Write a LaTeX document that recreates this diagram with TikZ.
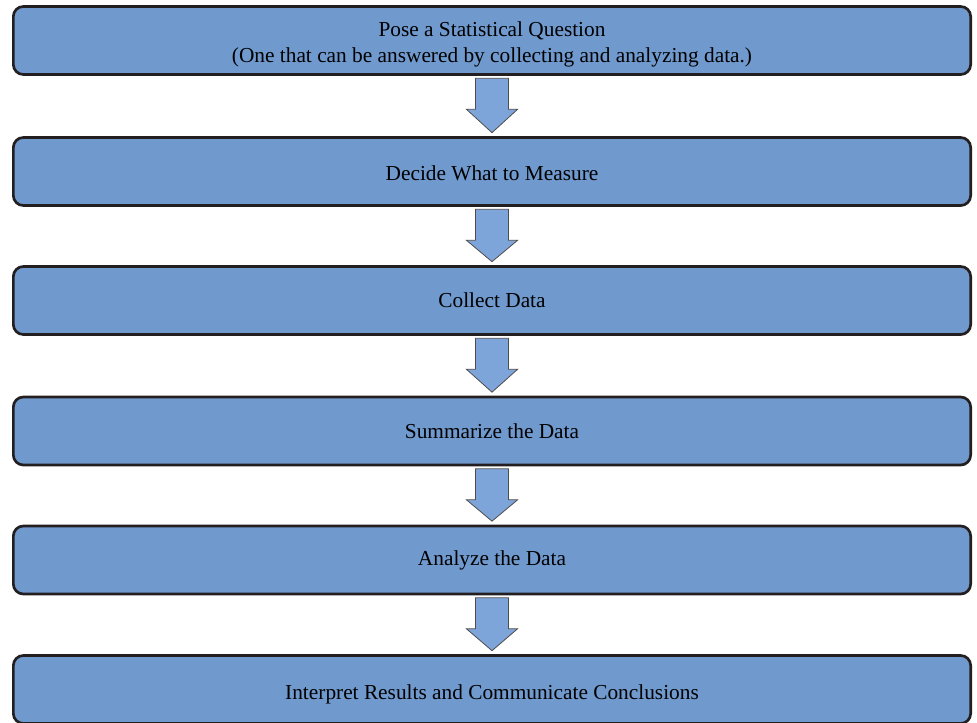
\documentclass[tikz,border=0pt]{standalone}
\usepackage{fontspec}
\setmainfont{Liberation Serif}
\usetikzlibrary{calc}

\definecolor{boxblue}{RGB}{112,153,206}
\definecolor{arrowblue}{RGB}{126,165,218}
\definecolor{boxline}{RGB}{35,31,32}

\begin{document}
\begin{tikzpicture}[x=0.75pt, y=-0.75pt,
		stagebox/.style={draw=boxline, line width=2pt, fill=boxblue, rounded corners=7.5pt,
			minimum width=718pt, minimum height=51pt, align=center,
			font=\fontsize{16}{19.5}\selectfont},
		downarrow/.style={fill=arrowblue, draw=boxline!80, line width=0.6pt, line join=miter}]
			\clip (0, 0) rectangle (977, 722);
			\fill[white] (0, 0) rectangle (977, 722);

			\node[stagebox] (question) at (492, 40.5) {\rule{0pt}{17pt}Pose a Statistical Question\\(One that can be answered by collecting and analyzing data.)};
			\node[stagebox] (measure) at (492, 171.5) {\rule{0pt}{14pt}Decide What to Measure};
			\node[stagebox] (collect) at (492, 300.5) {Collect Data};
			\node[stagebox] (summarize) at (492, 431) {Summarize the Data};
			\node[stagebox] (analyze) at (492, 560) {Analyze the Data};
			\node[stagebox] (interpret) at (492, 689.5) {\rule{0pt}{18pt}Interpret Results and Communicate Conclusions};

			\foreach \a/\b in {question/measure, measure/collect, collect/summarize, summarize/analyze, analyze/interpret}
			\draw[downarrow] ($(\a.south)+(-16.5, 2.5)$) -- ($(\a.south)+(-16.5, 33.5)$)
				-- ($(\a.south)+(-25.5, 33.5)$) -- ($(\b.north)+(0, -3.5)$)
				-- ($(\a.south)+(25.5, 33.5)$) -- ($(\a.south)+(16.5, 33.5)$)
				-- ($(\a.south)+(16.5, 2.5)$) -- cycle;

		\end{tikzpicture}
\end{document}
